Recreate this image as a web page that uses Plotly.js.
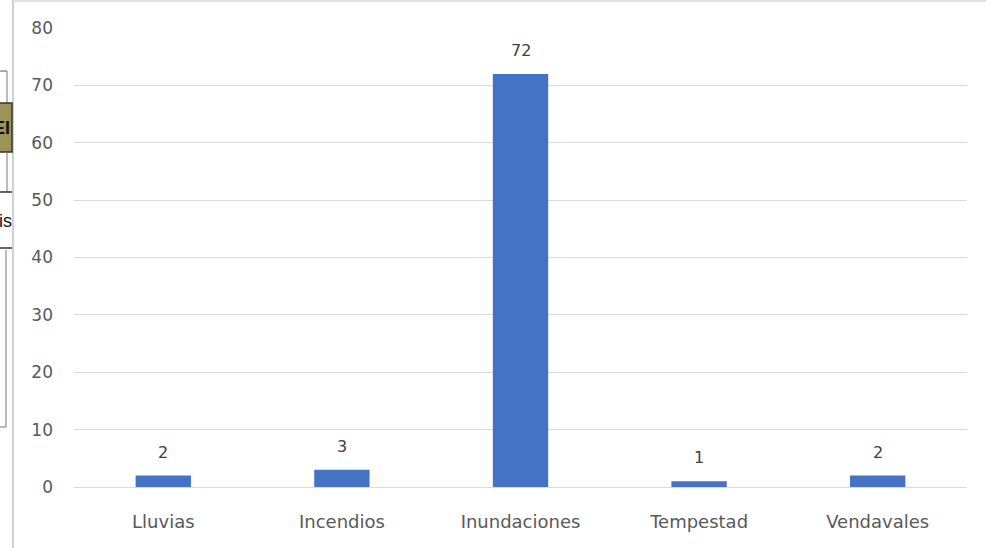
<!DOCTYPE html>
<html>
<head>
<meta charset="utf-8">
<script src="https://cdn.plot.ly/plotly-3.0.1.min.js"></script>
<style>html,body{margin:0;padding:0;background:#fff;}#chart{width:986px;height:548px;}</style>
</head>
<body>
<div id="chart"></div>
<script>
const categories = ["Lluvias", "Incendios", "Inundaciones", "Tempestad", "Vendavales"];
const values = [2, 3, 72, 1, 2];
const yTicks = [0, 10, 20, 30, 40, 50, 60, 70, 80];

// pixel -> paper helpers for decoration outside the plot
const L = 74, R = 967, T = 28, B = 487;
const px = p => (p - L) / (R - L);
const py = q => (B - q) / (B - T);
const FONT = 'DejaVu Sans, Liberation Sans, sans-serif';

const trace = {
  type: 'bar',
  x: categories,
  y: values,
  marker: {color: '#4472C4'},
  width: 0.31,
  hoverinfo: 'x+y'
};

const shapes = [
  // screenshot frame
  {type:'line', xref:'paper', yref:'paper', x0:px(13), x1:px(13), y0:py(0), y1:py(548), line:{color:'#d0d0d0', width:2}},
  {type:'line', xref:'paper', yref:'paper', x0:px(13), x1:px(986), y0:py(1), y1:py(1), line:{color:'#e0e0e0', width:2}},
  // left artifacts
  {type:'line', xref:'paper', yref:'paper', x0:px(0), x1:px(7), y0:py(71), y1:py(71), line:{color:'#555', width:1}},
  {type:'line', xref:'paper', yref:'paper', x0:px(7), x1:px(7), y0:py(71), y1:py(103), line:{color:'#777', width:1}},
  {type:'rect', xref:'paper', yref:'paper', x0:px(-2), x1:px(12), y0:py(103), y1:py(152), fillcolor:'#9a9458', line:{color:'#333', width:1.5}},
  {type:'line', xref:'paper', yref:'paper', x0:px(7), x1:px(7), y0:py(152), y1:py(192), line:{color:'#777', width:1}},
  {type:'line', xref:'paper', yref:'paper', x0:px(0), x1:px(12), y0:py(192), y1:py(192), line:{color:'#333', width:1.5}},
  {type:'line', xref:'paper', yref:'paper', x0:px(0), x1:px(12), y0:py(248), y1:py(248), line:{color:'#333', width:1.5}},
  {type:'line', xref:'paper', yref:'paper', x0:px(6), x1:px(6), y0:py(250), y1:py(427), line:{color:'#777', width:1}},
  {type:'line', xref:'paper', yref:'paper', x0:px(0), x1:px(6), y0:py(427), y1:py(427), line:{color:'#777', width:1}}
];

const annotations = [
  {xref:'paper', yref:'paper', x:px(12), y:py(128), xanchor:'right', yanchor:'middle', text:'<b>EI</b>', showarrow:false,
   font:{family:'Liberation Sans, sans-serif', size:18, color:'#111'}},
  {xref:'paper', yref:'paper', x:px(14), y:py(221), xanchor:'right', yanchor:'middle', text:'is', showarrow:false,
   font:{family:'Liberation Sans, sans-serif', size:18, color:'#111'}}
].concat(categories.map((c, i) => ({
  x: c, y: values[i], xref: 'x', yref: 'y',
  text: String(values[i]), showarrow: false,
  yanchor: 'bottom', yshift: 12,
  font: {family: FONT, size: 16, color: '#404040'}
})));

const layout = {
  width: 986, height: 548,
  margin: {l: L, r: 986 - R, t: T, b: 548 - B, pad: 0},
  paper_bgcolor: '#ffffff',
  plot_bgcolor: '#ffffff',
  showlegend: false,
  xaxis: {
    type: 'category',
    showgrid: false,
    zeroline: false,
    showline: false,
    ticks: '',
    ticklabelstandoff: 22,
    tickfont: {family: FONT, size: 18, color: '#595959'}
  },
  yaxis: {
    range: [0, 80],
    tickvals: yTicks,
    ticktext: yTicks.map(String),
    showgrid: true,
    gridcolor: '#d9d9d9',
    gridwidth: 1,
    zeroline: true,
    zerolinecolor: '#d9d9d9',
    zerolinewidth: 1,
    showline: false,
    ticks: '',
    ticklabelstandoff: 20,
    tickfont: {family: FONT, size: 17, color: '#595959'}
  },
  shapes: shapes,
  annotations: annotations
};

Plotly.newPlot('chart', [trace], layout, {displayModeBar: false, staticPlot: true});
</script>
</body>
</html>
